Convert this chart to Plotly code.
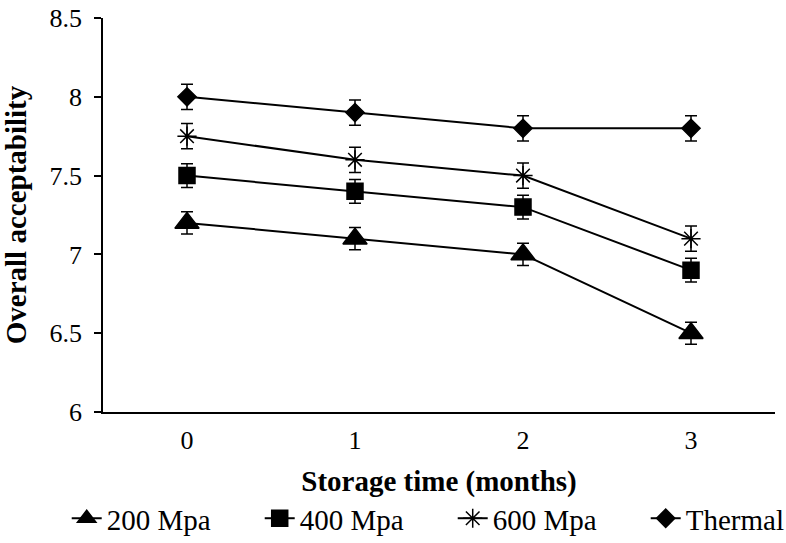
import plotly.graph_objects as go

months = [0, 1, 2, 3]
tick_labels = ["0", "1", "2", "3"]
series_names = ["200 Mpa", "400 Mpa", "600 Mpa", "Thermal"]
v200 = [7.2, 7.1, 7.0, 6.5]
v400 = [7.5, 7.4, 7.3, 6.9]
v600 = [7.75, 7.6, 7.5, 7.1]
vthermal = [8.0, 7.9, 7.8, 7.8]
err200 = [0.07, 0.07, 0.07, 0.07]
err400 = [0.075, 0.075, 0.075, 0.075]
err600 = [0.08, 0.08, 0.08, 0.08]
errthermal = [0.08, 0.08, 0.08, 0.08]
y_ticks = [6, 6.5, 7, 7.5, 8, 8.5]
y_tick_labels = ["6", "6.5", "7", "7.5", "8", "8.5"]

values = [v200, v400, v600, vthermal]
errors = [err200, err400, err600, errthermal]
symbols = ["triangle-up", "square", "asterisk-open", "diamond"]
sizes = [21, 16, 16, 14]

fig = go.Figure()
for name, vals, errs, sym, sz in zip(series_names, values, errors, symbols, sizes):
    fig.add_trace(go.Scatter(
        x=months, y=vals, name=name, mode="lines+markers",
        line=dict(color="black", width=2),
        marker=dict(symbol=sym, size=sz, color="black",
                    line=dict(color="black", width=1.5)),
        error_y=dict(type="data", array=errs, visible=True,
                     color="black", thickness=1.5, width=6),
    ))

font_family = "Liberation Serif, Times New Roman, serif"
fig.update_layout(
    width=786, height=543,
    margin=dict(l=103, r=11, t=18, b=131, autoexpand=False),
    paper_bgcolor="white", plot_bgcolor="white",
    font=dict(family=font_family, size=26, color="black"),
    showlegend=True,
    legend=dict(orientation="h", x=-0.054, xanchor="left",
                y=-0.27, yanchor="middle",
                font=dict(size=29, family=font_family), entrywidth=148,
                tracegroupgap=0),
    xaxis=dict(
        range=[-0.5, 3.5], tickmode="array", tickvals=months, ticktext=tick_labels,
        showline=True, linecolor="black", linewidth=1.5,
        ticks="outside", ticklen=4, tickcolor="rgba(0,0,0,0)",
        showgrid=False, zeroline=False, automargin=False,
        tickfont=dict(size=26, family=font_family),
        title=dict(text="<b>Storage time (months)</b>", font=dict(size=29, family=font_family), standoff=17),
    ),
    yaxis=dict(
        range=[6, 8.5], tickmode="array", tickvals=y_ticks, ticktext=y_tick_labels,
        showline=True, linecolor="black", linewidth=1.5, ticks="outside", ticklen=7,
        tickcolor="black", tickwidth=1.5, automargin=False,
        showgrid=False, zeroline=False, ticklabelstandoff=7,
        tickfont=dict(size=26, family=font_family),
        title=dict(text="<b>Overall acceptability</b>", font=dict(size=29, family=font_family), standoff=16),
    ),
)

fig.write_html("out.html", config={"displayModeBar": False},
               post_script="document.body.style.margin='0';")
